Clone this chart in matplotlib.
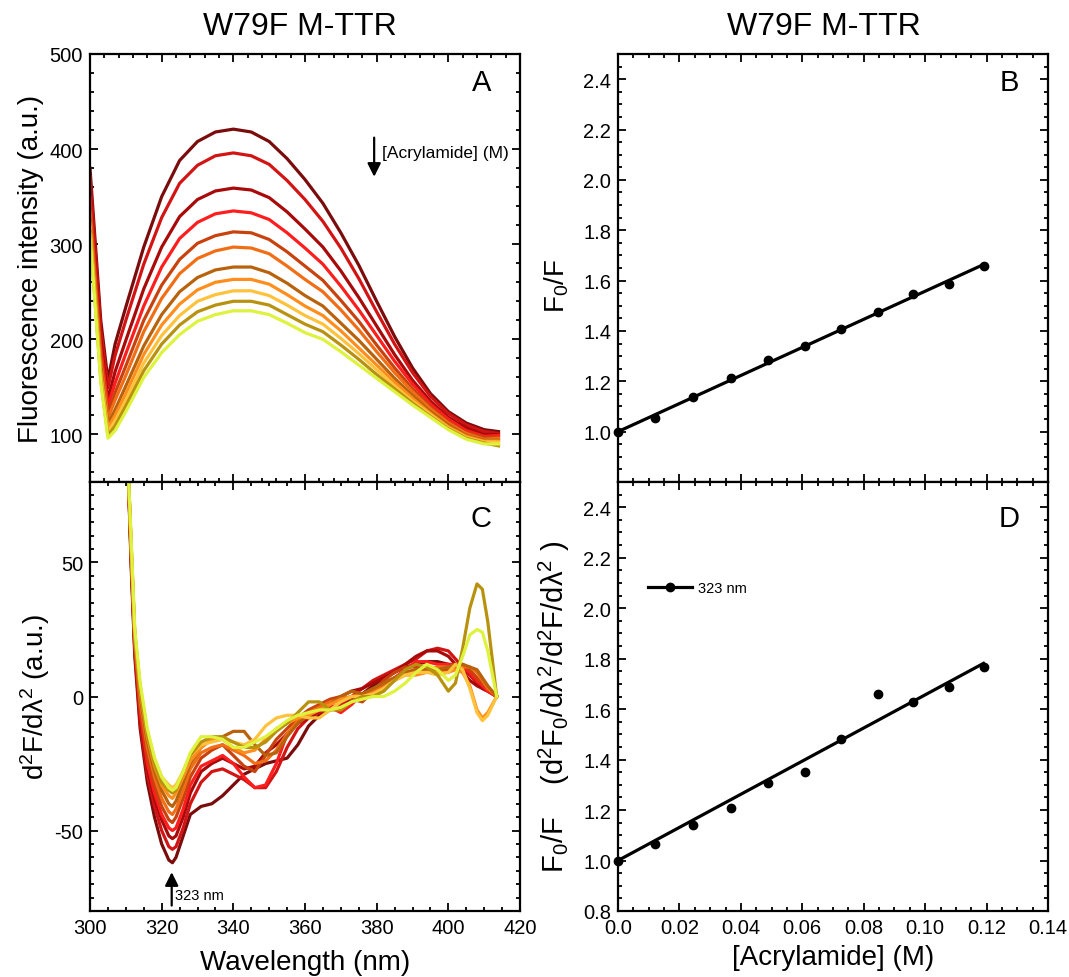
import matplotlib
matplotlib.use("Agg")
import matplotlib.pyplot as plt
from matplotlib.ticker import MultipleLocator, FixedLocator, FixedFormatter
from matplotlib.lines import Line2D
import numpy as np

plt.rcParams['font.family'] = ['Liberation Sans', 'DejaVu Sans']
plt.rcParams['mathtext.fontset'] = 'custom'
plt.rcParams['mathtext.rm'] = 'Liberation Sans'
plt.rcParams['mathtext.it'] = 'Liberation Sans:italic'
plt.rcParams['mathtext.default'] = 'regular'
plt.rcParams['axes.unicode_minus'] = False

# ---- panel A : emission spectra (nm, a.u.), 0 M -> highest acrylamide
wl_a = [300, 303, 305, 307, 310, 315, 320, 325, 330, 335, 340, 345, 350,
        355, 360, 365, 370, 375, 380, 385, 390, 395, 400, 405, 410, 414]
spec_1 = [380, 220, 157, 195, 234, 297, 350, 388, 408, 418, 421, 418, 408,
          390, 368, 343, 312, 278, 240, 203, 170, 143, 124, 112, 105, 103]
spec_2 = [371, 211, 149, 183, 220, 279, 328, 364, 383, 393, 396, 393, 384,
          367, 347, 324, 296, 264, 229, 195, 165, 140, 122, 110, 103, 101]
spec_3 = [357, 199, 137, 166, 199, 253, 297, 329, 347, 356, 359, 357, 349,
          334, 316, 297, 272, 244, 214, 184, 157, 135, 118, 107, 100, 100]
spec_4 = [349, 191, 130, 154, 185, 235, 276, 306, 323, 332, 335, 333, 326,
          312, 296, 279, 256, 231, 204, 177, 153, 132, 116, 104, 98, 99]
spec_5 = [340, 183, 122, 144, 172, 220, 257, 284, 301, 309, 313, 312, 305,
          292, 277, 262, 241, 219, 194, 170, 148, 129, 113, 102, 97, 97]
spec_6 = [334, 178, 117, 136, 162, 208, 243, 269, 285, 293, 297, 296, 290,
          277, 263, 250, 231, 210, 187, 165, 145, 127, 112, 101, 95, 96]
spec_7 = [327, 171, 111, 126, 151, 193, 226, 250, 265, 273, 276, 276, 270,
          259, 246, 235, 217, 199, 179, 159, 141, 124, 110, 99, 94, 94]
spec_8 = [322, 166, 107, 120, 143, 184, 215, 237, 252, 260, 263, 263, 258,
          247, 235, 225, 209, 191, 173, 155, 138, 122, 108, 98, 93, 93]
spec_9 = [318, 162, 103, 114, 136, 175, 204, 225, 240, 247, 251, 251, 246,
          236, 225, 216, 201, 185, 168, 151, 135, 121, 107, 97, 92, 92]
spec_10 = [314, 158, 99, 109, 130, 167, 195, 215, 229, 236, 240, 240, 236,
           226, 216, 208, 194, 179, 163, 148, 133, 119, 106, 96, 91, 88]
spec_11 = [310, 155, 96, 104, 124, 160, 186, 205, 219, 226, 230, 230, 226,
           217, 207, 200, 187, 173, 159, 145, 131, 118, 105, 95, 90, 90]
spectra = [spec_1, spec_2, spec_3, spec_4, spec_5, spec_6, spec_7, spec_8,
           spec_9, spec_10, spec_11]

# ---- panel C : second derivative spectra
wl_c = [310.5, 311.5, 312.5, 314, 316, 318, 320, 322, 323, 324, 326, 328, 331,
        334, 337, 340, 343, 346, 349, 352, 355, 358, 361, 364, 367, 370, 373,
        376, 379, 382, 385, 388, 391, 394, 397, 400, 402, 404, 406, 408, 409.5,
        411, 413.5]
d2_1 = [90, 48, 15, -12, -32, -45, -55, -61, -62, -60, -52, -44, -41, -40, -37,
        -33, -29, -27, -25, -24, -23, -18, -11, -7, -5, -3, -1, 1, 4, 7, 9, 11,
        12, 13, 13, 12, 11, 10, 8, 6, 5, 3, 0]
d2_2 = [90, 50, 17, -10, -29, -41, -50, -56, -57, -56, -49, -40, -32, -28, -27,
        -29, -31, -34, -34, -28, -19, -12, -8, -6, -4, -3, 0, 3, 6, 8, 10, 12,
        14, 17, 18, 17, 14, 11, 8, 5, 3, 2, 0]
d2_3 = [90, 51, 18, -8, -27, -38, -46, -52, -53, -52, -45, -36, -28, -25, -23,
        -25, -27, -26, -21, -18, -14, -10, -8, -5, -2, 0, 2, 3, 5, 7, 9, 12, 15,
        17, 17, 15, 12, 9, 6, 4, 3, 2, 0]
d2_4 = [90, 52, 19, -6, -25, -36, -44, -49, -50, -49, -42, -33, -26, -24, -22,
        -25, -30, -34, -33, -25, -14, -10, -7, -4, -4, -6, -3, 1, 1, 5, 7, 10,
        13, 13, 12, 12, 12, 11, 9, 6, 4, 2, 0]
d2_5 = [90, 53, 20, -4, -22, -33, -41, -46, -47, -45, -38, -30, -23, -20, -18,
        -22, -26, -28, -22, -16, -12, -8, -5, -3, -1, 0, -1, -2, 2, 6, 9, 11,
        11, 11, 10, 10, 11, 12, 10, 7, 5, 3, 0]
d2_6 = [90, 54, 21, -2, -19, -30, -38, -43, -44, -42, -35, -27, -21, -19, -18,
        -20, -22, -25, -24, -20, -14, -9, -6, -4, -2, -1, 0, 1, 2, 4, 7, 9, 10,
        10, 11, 11, 11, 11, 11, 9, 6, 3, 0]
d2_7 = [90, 55, 22, 0, -17, -28, -35, -40, -41, -39, -32, -25, -19, -16, -15,
        -13, -13, -18, -22, -21, -15, -10, -7, -5, -3, 0, 2, 1, 3, 5, 7, 9, 10,
        10, 10, 11, 12, 12, 11, 10, 7, 4, 0]
d2_8 = [90, 56, 23, 2, -15, -26, -33, -37, -38, -36, -30, -24, -19, -16, -16,
        -19, -21, -20, -16, -12, -10, -8, -7, -5, -3, -1, 0, 0, 1, 3, 6, 8, 8,
        9, 9, 9, 10, 9, 4, -5, -8, -6, 0]
d2_9 = [90, 57, 24, 4, -13, -23, -30, -33, -34, -33, -28, -22, -18, -17, -16,
        -17, -18, -16, -11, -8, -7, -7, -8, -8, -5, -2, 0, 0, 1, 3, 6, 8, 9, 9,
        8, 9, 12, 10, 3, -6, -9, -7, 0]
d2_10 = [90, 56, 23, 3, -14, -25, -32, -35, -36, -35, -28, -22, -17, -15, -15,
         -17, -19, -19, -17, -13, -10, -6, -2, -2, -5, -5, -2, 0, 0, 2, 6, 10,
         12, 11, 8, 2, 5, 18, 33, 42, 40, 28, 0]
d2_11 = [90, 58, 25, 5, -12, -23, -30, -34, -35, -34, -28, -21, -15, -15, -16,
         -19, -19, -17, -15, -12, -9, -7, -6, -5, -5, -4, -2, -1, 0, 0, 2, 5, 9,
         12, 10, 6, 8, 15, 23, 25, 24, 17, 0]
deriv = [d2_1, d2_2, d2_3, d2_4, d2_5, d2_6, d2_7, d2_8, d2_9, d2_10, d2_11]

colors = ['#7a0c0c', '#d21414', '#a80a0a', '#ff1e1e', '#c8420e', '#f26e16',
          '#b8620c', '#ff8e1c', '#ffc23c', '#b8920e', '#def23e']

# ---- panels B and D : Stern-Volmer plots
conc = [0.0, 0.0122, 0.0245, 0.0368, 0.0487, 0.0609, 0.0727, 0.0845,
        0.0961, 0.1077, 0.119]
f0f = [1.0, 1.053, 1.139, 1.213, 1.284, 1.341, 1.407, 1.474, 1.545,
       1.587, 1.659]
f0f_d2 = [1.0, 1.066, 1.142, 1.209, 1.307, 1.352, 1.483, 1.661, 1.627,
          1.689, 1.767]
conc_ticks = [0.0, 0.02, 0.04, 0.06, 0.08, 0.10, 0.12, 0.14]
conc_labels = ['0.0', '0.02', '0.04', '0.06', '0.08', '0.10', '0.12', '0.14']

W, H = 1069, 978
fig = plt.figure(figsize=(W / 100, H / 100), dpi=100)


def px_axes(x0, y0, x1, y1):
    return fig.add_axes([x0 / W, 1 - y1 / H, (x1 - x0) / W, (y1 - y0) / H])


def style(ax):
    for s in ax.spines.values():
        s.set_linewidth(1.6)
    ax.tick_params(which='both', direction='in', top=True, right=True,
                   width=1.3, labelsize=14.5, pad=5)
    ax.tick_params(which='major', length=5.5)
    ax.tick_params(which='minor', length=3)


def sv_line(x, y):
    # Stern-Volmer fit forced through F0/F = 1 at [Q] = 0
    x = np.asarray(x)
    y = np.asarray(y)
    k = np.sum(x * (y - 1)) / np.sum(x * x)
    return 1 + k * x


def ylabel_at(ax, text, x, y, size):
    ax.set_ylabel(text, fontsize=size)
    ax.yaxis.set_label_coords(x, y)
    ax.yaxis.label.set_va('center')


axA = px_axes(90, 55, 520, 483)
axC = px_axes(90, 483, 520, 912)
axB = px_axes(618, 55, 1048, 483)
axD = px_axes(618, 483, 1048, 912)

# panel A
for sp, c in zip(spectra, colors):
    axA.plot(wl_a, sp, color=c, lw=2.3)
axA.set_xlim(300, 420)
axA.set_ylim(50, 500)
axA.xaxis.set_major_locator(MultipleLocator(20))
axA.xaxis.set_minor_locator(MultipleLocator(4))
axA.yaxis.set_major_locator(FixedLocator([100, 200, 300, 400, 500]))
axA.yaxis.set_minor_locator(MultipleLocator(20))
style(axA)
axA.tick_params(labelbottom=False)
ylabel_at(axA, 'Fluorescence intensity (a.u.)', -0.138, 0.5, 20)
axA.text(0.91, 0.935, 'A', transform=axA.transAxes, fontsize=21,
         ha='center', va='center')
axA.annotate('', xy=(379.3, 368), xytext=(379.3, 415),
             arrowprops=dict(arrowstyle='-|>', color='black', lw=1.6,
                             mutation_scale=20))
axA.text(381.5, 396, '[Acrylamide] (M)', fontsize=12.5, ha='left', va='center')

# panel C
for d, c in zip(deriv, colors):
    axC.plot(wl_c, d, color=c, lw=2.3)
axC.set_xlim(300, 420)
axC.set_ylim(-80, 80)
axC.xaxis.set_major_locator(MultipleLocator(20))
axC.xaxis.set_minor_locator(MultipleLocator(5))
axC.yaxis.set_major_locator(MultipleLocator(50))
axC.yaxis.set_minor_locator(MultipleLocator(5))
style(axC)
axC.set_xlabel('Wavelength (nm)', fontsize=20)
axC.xaxis.set_label_coords(0.5, -0.119)
axC.xaxis.label.set_va('center')
ylabel_at(axC, 'd$^2$F/dλ$^2$ (a.u.)', -0.128, 0.5, 20)
axC.text(0.91, 0.915, 'C', transform=axC.transAxes, fontsize=21,
         ha='center', va='center')
axC.annotate('', xy=(322.8, -64.5), xytext=(322.8, -79),
             arrowprops=dict(arrowstyle='-|>', color='black', lw=1.6,
                             mutation_scale=20))
axC.text(323.8, -74, '323 nm', fontsize=10.5, ha='left', va='center')

# panel B
axB.plot(conc, sv_line(conc, f0f), color='black', lw=2.3)
axB.plot(conc, f0f, 'o', color='black', ms=6, clip_on=False)
axB.set_ylim(0.8, 2.5)
axB.set_yticks([1.0, 1.2, 1.4, 1.6, 1.8, 2.0, 2.2, 2.4])
axB.set_yticklabels(['1.0', '1.2', '1.4', '1.6', '1.8', '2.0', '2.2', '2.4'])
ylabel_at(axB, 'F$_0$/F', -0.142, 0.46, 20)
axB.text(0.91, 0.935, 'B', transform=axB.transAxes, fontsize=21,
         ha='center', va='center')

# panel D
axD.plot(conc, sv_line(conc, f0f_d2), color='black', lw=2.3)
axD.plot(conc, f0f_d2, 'o', color='black', ms=6, clip_on=False)
axD.set_ylim(0.8, 2.5)
axD.set_yticks([0.8, 1.0, 1.2, 1.4, 1.6, 1.8, 2.0, 2.2, 2.4])
axD.set_yticklabels(['0.8', '1.0', '1.2', '1.4', '1.6', '1.8', '2.0', '2.2', '2.4'])
axD.set_xlabel('[Acrylamide] (M)', fontsize=20)
axD.xaxis.set_label_coords(0.5, -0.107)
axD.xaxis.label.set_va('center')
ylabel_at(axD, 'F$_0$/F    (d$^2$F$_0$/dλ$^2$/d$^2$F/dλ$^2$ )', -0.147, 0.478, 21)
axD.text(0.91, 0.915, 'D', transform=axD.transAxes, fontsize=21,
         ha='center', va='center')

for ax in (axB, axD):
    ax.set_xlim(0, 0.14)
    ax.xaxis.set_major_locator(FixedLocator(conc_ticks))
    ax.xaxis.set_major_formatter(FixedFormatter(conc_labels))
    ax.xaxis.set_minor_locator(MultipleLocator(0.005))
    ax.yaxis.set_minor_locator(MultipleLocator(0.05))
    style(ax)
axB.tick_params(labelbottom=False)

proxy = Line2D([], [], color='black', lw=2.3, marker='o', ms=6)
axD.legend([proxy], ['323 nm'], loc='center left', bbox_to_anchor=(0.07, 0.753),
           frameon=False, fontsize=10.5, handlelength=3.0, handletextpad=0.4,
           borderpad=0, borderaxespad=0, numpoints=1)

fig.text(300 / W, 1 - 27 / H, 'W79F M-TTR', ha='center', va='center', fontsize=23)
fig.text(824 / W, 1 - 27 / H, 'W79F M-TTR', ha='center', va='center', fontsize=23)

fig.savefig('out.png', dpi=100)
